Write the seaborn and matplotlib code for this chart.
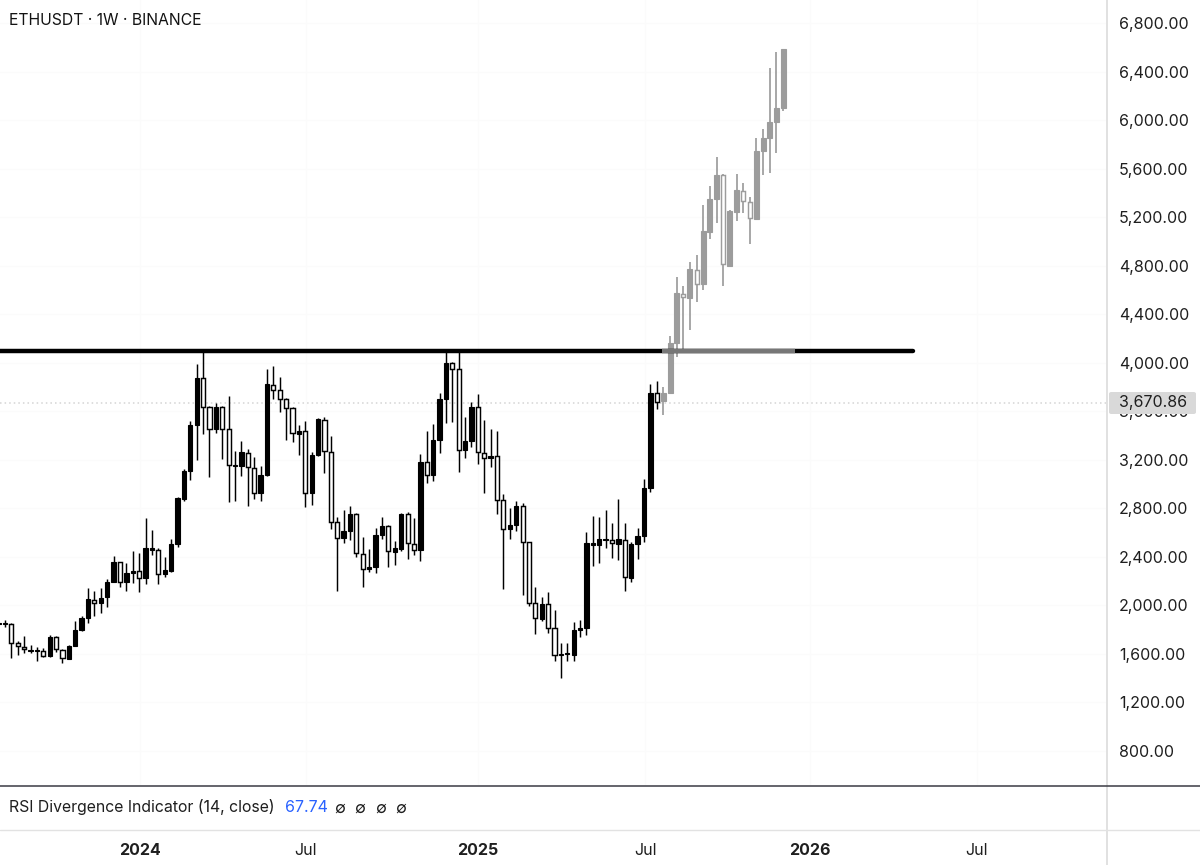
import numpy as np
import pandas as pd
import matplotlib
matplotlib.use("Agg")
import matplotlib.pyplot as plt
from matplotlib.lines import Line2D
from matplotlib.patches import FancyBboxPatch
import seaborn as sns

# Weekly candles
opens = [1844,1844,1847,1687,1660,1624,1627,1627,1583,1737,
         1635,1558,1668,1797,1896,2044,2017,2066,2195,2355,
         2195,2270,2283,2226,2456,2459,2256,2286,2506,2877,
         3110,3487,3874,3638,3454,3638,3454,3151,3149,3259,
         3135,2929,3072,3816,3772,3698,3624,3415,3434,2929,
         3239,3528,3267,2687,2558,2613,2750,2426,2297,2316,
         2577,2657,2443,2467,2750,2506,2456,3179,3074,3363,
         3704,3997,3948,3281,3355,3632,3259,3215,3228,2866,
         2629,2660,2819,2520,2020,1888,2011,1814,1588,1599,
         1591,1797,1814,2500,2500,2542,2536,2509,2542,2228,
         2503,2574,2970,3753,3684,3748,4165,4564,4536,4767,
         4649,5080,5349,5547,4800,5245,5418,5325,5187,5742,
         5852,5981,6096]
closes = [1858,1852,1693,1665,1638,1635,1635,1586,1742,1641,
          1564,1668,1797,1899,2050,2017,2064,2195,2355,2195,
          2267,2283,2226,2476,2473,2256,2289,2509,2882,3110,
          3487,3874,3638,3454,3638,3454,3154,3160,3261,3138,
          2929,3072,3822,3778,3698,3624,3418,3434,2929,3239,
          3533,3270,2690,2558,2613,2750,2429,2303,2314,2577,
          2657,2445,2470,2750,2511,2459,3182,3077,3363,3704,
          4000,3951,3281,3352,3632,3261,3215,3228,2871,2629,
          2662,2819,2522,2022,1893,2011,1816,1588,1602,1607,
          1797,1814,2511,2511,2550,2550,2511,2544,2231,2503,
          2572,2970,3753,3673,3747,4165,4572,4539,4770,4651,
          5086,5349,5547,4811,5250,5421,5330,5193,5748,5855,
          5981,6102,6588]
highs = [1871,1880,1858,1706,1750,1673,1660,1646,1756,1750,
         1641,1673,1871,1915,2146,2121,2141,2217,2407,2360,
         2347,2451,2429,2717,2621,2470,2396,2544,2896,3121,
         3520,3989,4110,3646,3671,3646,3728,3272,3357,3286,
         3220,3149,3945,3973,3879,3706,3632,3487,3520,3267,
         3541,3555,3396,2726,2786,2822,2759,2566,2465,2635,
         2726,2662,2531,2759,2770,2723,3248,3440,3495,3747,
         4110,4006,4110,3550,3673,3739,3528,3451,3437,2918,
         2800,2857,2841,2525,2154,2072,2108,1962,1693,1693,
         1866,1880,2607,2739,2731,2786,2679,2879,2682,2525,
         2635,3039,3822,3852,3797,4220,4704,4635,4833,4888,
         5300,5456,5698,5552,5259,5555,5484,5369,5849,5929,
         6426,6563,6588]
lows = [1825,1819,1564,1591,1610,1610,1542,1577,1577,1619,
        1528,1555,1668,1789,1857,1912,1934,1990,2195,2149,
        2121,2182,2107,2173,2415,2173,2237,2278,2478,2863,
        3033,3198,3412,3061,3418,3206,2855,2863,3066,2819,
        2879,2863,3066,3698,3596,3363,3349,3242,2814,2827,
        3234,3088,2632,2121,2517,2539,2396,2154,2278,2264,
        2547,2314,2333,2448,2385,2412,2366,3011,3028,3253,
        3500,3511,3102,3217,3302,3162,2923,3143,2753,2132,
        2547,2616,2086,1998,1761,1874,1775,1544,1399,1544,
        1544,1742,1759,2327,2352,2476,2388,2374,2121,2195,
        2382,2525,2932,3616,3566,3748,4050,4091,4270,4503,
        4599,5017,5149,4632,4800,5168,5231,4978,5176,5544,
        5566,5726,6077]

price_ticks = [800, 1200, 1600, 2000, 2400, 2800, 3200, 3600, 4000,
               4400, 4800, 5200, 5600, 6000, 6400, 6800]
time_labels = ["2024", "Jul", "2025", "Jul", "2026", "Jul"]
time_ticks = [22.1, 48.1, 75.0, 101.2, 127.0, 153.1]
last_price = 3670.86
level = 4100

W, H = 1200, 865
FONT = ["Inter", "DejaVu Sans"]

sns.set_theme(style="white")
plt.rcParams["font.family"] = FONT

n_real = 104
weeks = np.concatenate([np.arange(n_real), 103 + np.arange(1, len(opens) - n_real + 1) * 1.04])

df = pd.DataFrame({"week": weeks, "open": opens, "high": highs, "low": lows, "close": closes})
df["top"] = df[["open", "close"]].max(axis=1)
df["bot"] = df[["open", "close"]].min(axis=1)
df["up"] = df["close"] >= df["open"]
df["sketch"] = np.arange(len(df)) > n_real - 1

fig = plt.figure(figsize=(W / 100, H / 100), dpi=100)
ax = fig.add_axes([0, 80 / H, 1107 / W, 785 / H])

# wicks
wicks = df.melt(id_vars=["week", "sketch"], value_vars=["high", "low"], value_name="price")
sns.lineplot(data=wicks[~wicks["sketch"]], x="week", y="price", units="week", estimator=None,
             color="#000000", legend=False, lw=1.05, ax=ax, zorder=3, solid_capstyle="butt")
sns.lineplot(data=wicks[wicks["sketch"]], x="week", y="price", units="week", estimator=None,
             color="#9c9c9c", legend=False, lw=1.25, ax=ax, zorder=3, solid_capstyle="butt")

# bodies
for is_sketch, col, w_up in [(False, "#000000", 0.68), (True, "#9c9c9c", 0.78)]:
    part = df[df["sketch"] == is_sketch]
    up = part[part["up"]]
    down = part[~part["up"]]
    ax.bar(up["week"], up["top"] - up["bot"], bottom=up["bot"], width=w_up,
           facecolor=col, edgecolor=col, linewidth=0.8, zorder=4)
    ax.bar(down["week"], down["top"] - down["bot"], bottom=down["bot"], width=0.64,
           facecolor="white", edgecolor=col, linewidth=1.05, zorder=4)

# level line, washed out where the sketch sits on it
ax.plot([0.2, 143.1], [level, level], color="black", lw=3.2, solid_capstyle="round", zorder=5)
ax.plot([103.8, 124.6], [level, level], color="#777777", lw=3.2, solid_capstyle="butt", zorder=5)

ax.axhline(last_price, color="#d4d4d4", lw=1.1, ls=(0, (1, 2)), zorder=1)

ax.set_xlim(0.22, 173.46)
ax.set_ylim(520, 6990)
ax.set_xticks(time_ticks)
ax.set_xticklabels(time_labels)
ax.set_yticks(price_ticks)
ax.set_yticklabels([f"{v:,.2f}" for v in price_ticks])
ax.yaxis.tick_right()
ax.tick_params(axis="y", length=0, pad=8.7, labelsize=11.5, labelcolor="#1f1f1f")
ax.tick_params(axis="x", length=0, pad=41.7, labelsize=11.5, labelcolor="#1f1f1f")
for lab in ax.get_xticklabels():
    if lab.get_text().isdigit():
        lab.set_fontweight("bold")
ax.grid(True, color="#fbfbfb", lw=1.0)
ax.set_axisbelow(True)
ax.set_xlabel("")
ax.set_ylabel("")
sns.despine(ax=ax, left=True, bottom=True, right=True, top=True)

# current price tag
fig.add_artist(FancyBboxPatch((1109 / W, 1 - 414 / H), 87 / W, 22 / H, boxstyle="round,pad=0,rounding_size=0.002",
                              facecolor="#d9d9d9", edgecolor="none", transform=fig.transFigure, zorder=6))
fig.text(1153 / W, 1 - 403 / H, f"{last_price:,.2f}", ha="center", va="center", fontsize=11.5,
         color="#1f1f1f", zorder=7)

# pane separators
fig.add_artist(Line2D([1107 / W, 1107 / W], [0, 1], color="#dcdcdc", lw=1.2))
fig.add_artist(Line2D([0, 1], [1 - 786 / H, 1 - 786 / H], color="#3a3a44", lw=1.1))
fig.add_artist(Line2D([0, 1], [1 - 830 / H, 1 - 830 / H], color="#e2e2e2", lw=1.0))

fig.text(9 / W, 1 - 20.5 / H, "ETHUSDT · 1W · BINANCE", ha="left", va="center", fontsize=11.35, color="#131313")
fig.text(9 / W, 1 - 807 / H, "RSI Divergence Indicator (14, close)", ha="left", va="center", fontsize=11.4, color="#1f1f1f")
fig.text(285 / W, 1 - 807 / H, "67.74", ha="left", va="center", fontsize=11.5, color="#2962ff")
for x_px in [340, 360, 381, 401]:
    fig.text(x_px / W, 1 - 808 / H, "∅", ha="center", va="center", fontsize=11.5, color="#1f1f1f")

fig.savefig("out.png", dpi=100)
